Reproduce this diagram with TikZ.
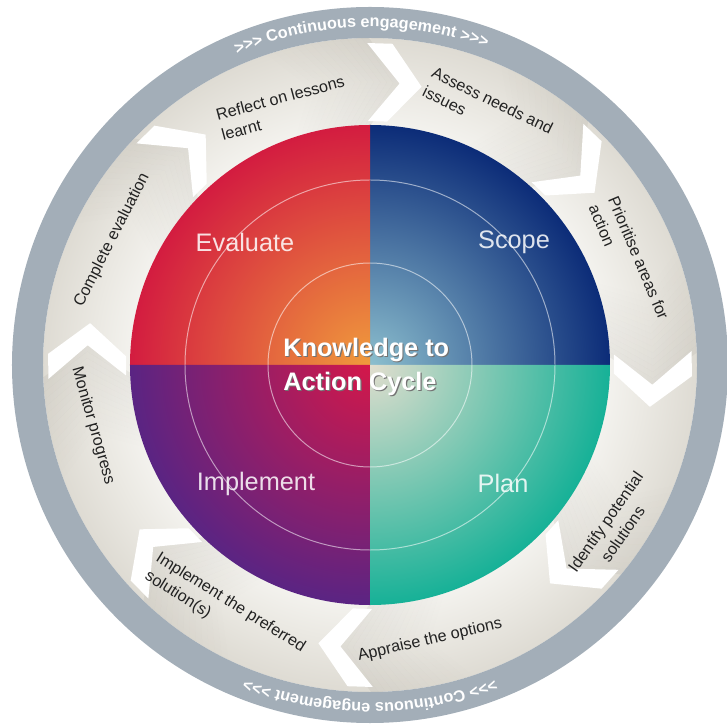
\documentclass[tikz,border=0pt]{standalone}
\usepackage{fontspec}
\setmainfont{Liberation Sans}
\usetikzlibrary{decorations.text}

\definecolor{ringgray}{HTML}{A3AEB8}
\definecolor{beigein}{HTML}{F4F3EF}
\definecolor{beigemid}{HTML}{EBE9E3}
\definecolor{beigeout}{HTML}{DEDBD3}
\definecolor{evalin}{HTML}{F09C3C}
\definecolor{evalout}{HTML}{D31C40}
\definecolor{scopein}{HTML}{8CBFCE}
\definecolor{scopeout}{HTML}{0C2C78}
\definecolor{planin}{HTML}{E2DECE}
\definecolor{planout}{HTML}{16B197}
\definecolor{implin}{HTML}{D3184A}
\definecolor{implout}{HTML}{5A2483}
\definecolor{steptxt}{HTML}{222222}
\definecolor{tipshade}{HTML}{8C877C}

\pgfdeclareradialshading{beigering}{\pgfpoint{0bp}{0bp}}{color(0bp)=(beigein); color(18bp)=(beigein); color(21bp)=(beigemid); color(25bp)=(beigeout); color(50bp)=(beigeout)}

\begin{document}
\begin{tikzpicture}[x=0.025cm, y=0.025cm,
    steptext/.style={font=\fontsize{11.5}{15}\selectfont, text=steptxt, inner sep=0pt},
    quadtext/.style={font=\fontsize{18}{21}\selectfont, text=white, text opacity=0.85, inner sep=0pt},
    titletext/.style={font=\fontsize{18}{24}\selectfont\bfseries, align=left, inner sep=0pt, anchor=west}]
  \useasboundingbox (-370,-362) rectangle (356,365);

  % outer rings
  \shade[shading=beigering] (0,0) circle (327);

  % darker ends of the step arrows
  \begin{scope}
    \clip (0,0) circle (327);
    \foreach \t in {85,43,-3,-45,-95,-139,177,131}
      \foreach \k in {0,...,13} {
        \pgfmathsetmacro\op{0.11*(1-\k/14)}
        \fill[tipshade, fill opacity=\op]
          ({\t+5.5+1.3*\k}:330) -- ({\t-1+1.3*\k}:283) -- ({\t+5.5+1.3*\k}:236)
          -- ({\t+5.5+1.3*(\k+1)}:236) -- ({\t-1+1.3*(\k+1)}:283) -- ({\t+5.5+1.3*(\k+1)}:330) -- cycle;
      }
  \end{scope}
  \fill[ringgray, even odd rule] (0,0) circle (358) (0,0) circle (327);

  % white chevrons between the steps
  \foreach \t in {85,43,-3,-45,-95,-139,177,131}
    \fill[white] ({\t+1}:322) -- ({\t-5.5}:283) -- ({\t+1}:244) -- ({\t+5.5}:244)
                 -- ({\t-1}:283) -- ({\t+5.5}:322) -- cycle;

  % four quadrants
  \foreach \a/\ci/\co in {0/scopein/scopeout, 90/evalin/evalout, 180/implin/implout, 270/planin/planout} {
    \begin{scope}
      \clip (0,0) -- (\a:240) arc[start angle=\a, end angle=\a+90, radius=240] -- cycle;
      \shade[inner color=\ci, outer color=\co] (0,0) circle (240);
    \end{scope}
  }
  \draw[white, opacity=0.55, line width=0.7] (0,0) circle (102) (0,0) circle (185);

  % continuous engagement
  \path[decorate, decoration={text along path, text align=center,
        text={|\fontsize{11.5}{12}\selectfont\bfseries\color{white}|>>> Continuous engagement >>>}}]
    (116.5:338) arc[start angle=116.5, end angle=66.5, radius=338];
  \path[decorate, decoration={text along path, text align=center,
        text={|\fontsize{11.5}{12}\selectfont\bfseries\color{white}|>>> Continuous engagement >>>}}]
    (-65:338) arc[start angle=-65, end angle=-115, radius=338];

  % quadrant names
  \node[quadtext] (evaluate) at (-125,123) {Evaluate};
  \node[quadtext] (scope) at (144,123) {Scope};
  \node[quadtext] (implement) at (-114,-119) {Implement};
  \node[quadtext] (plan) at (133,-118) {Plan};

  % title
  \node[titletext, text=black!55] (titleshade) at (-85.8,-3.2) {Knowledge to\\Action Cycle};
  \node[titletext, text=white] (title) at (-87,-2) {Knowledge to\\Action Cycle};

  % steps round the ring
  \node[steptext, rotate=15, align=left] (reflect) at (-87,257) {Reflect on lessons\\learnt};
  \node[steptext, rotate=-26, align=left] (assess) at (118,255) {Assess needs and\\issues};
  \node[steptext, rotate=-67, align=left] (prioritise) at (259,103) {Prioritise areas for\\action};
  \node[steptext, rotate=55, align=center] (identify) at (244,-163) {Identify potential\\solutions};
  \node[steptext, rotate=13] (appraise) at (60,-275) {Appraise the options};
  \node[steptext, rotate=-32, align=left] (implpref) at (-145,-247) {Implement the preferred\\solution(s)};
  \node[steptext, rotate=-74] (monitor) at (-277,-61) {Monitor progress};
  \node[steptext, rotate=63] (complete) at (-258,125) {Complete evaluation};
\end{tikzpicture}
\end{document}
